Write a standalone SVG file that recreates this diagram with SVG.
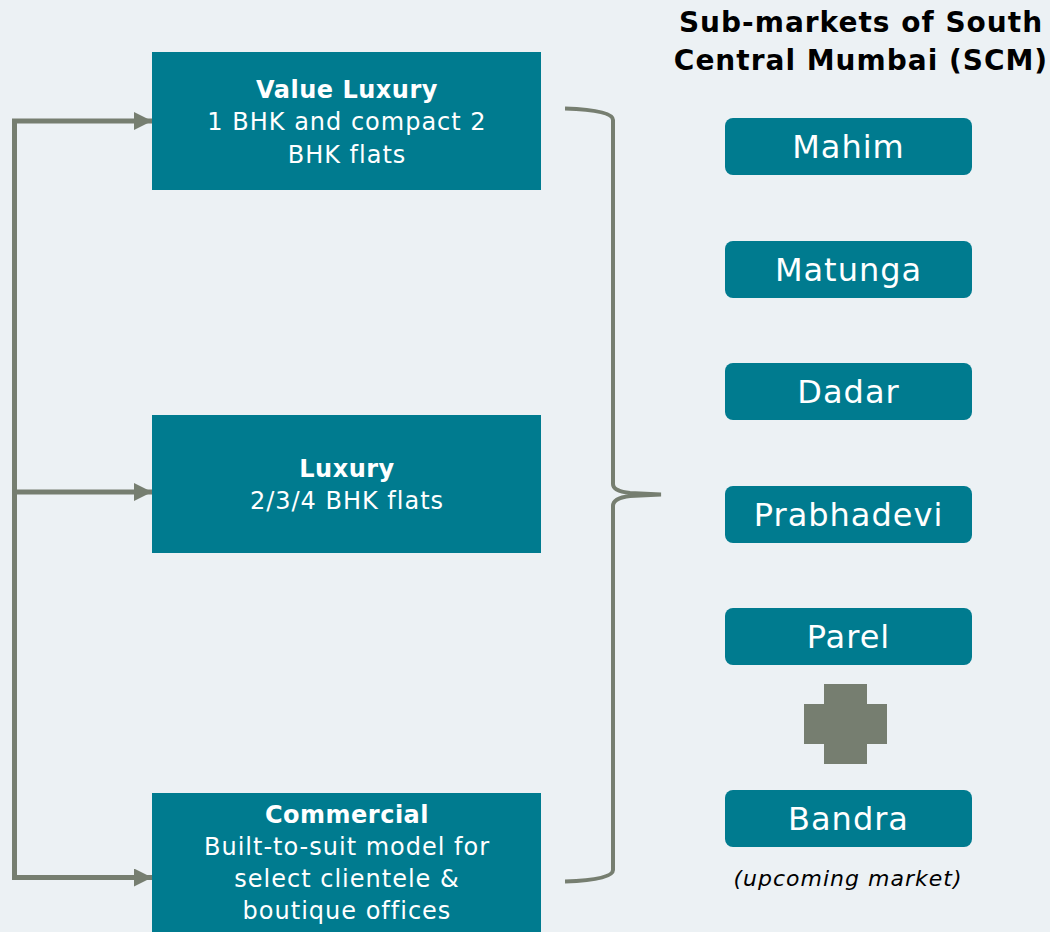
<svg xmlns="http://www.w3.org/2000/svg" width="1050" height="932" viewBox="0 0 1050 932">
<style>
.bg{fill:#ECF1F4}
.box{fill:#007B8F}
.mk{fill:#007B8F}
.t{font-family:"DejaVu Sans","Open Sans",sans-serif;fill:#FFFFFF;text-anchor:middle}
.tb{font-weight:bold;font-size:24px;letter-spacing:0.5px}
.tn{font-size:24px;letter-spacing:1px}
.mt{font-size:32px;letter-spacing:1px}
.title{font-family:"DejaVu Sans","Open Sans",sans-serif;font-weight:bold;font-size:28px;letter-spacing:1px;fill:#000000;text-anchor:middle}
.note{font-family:"DejaVu Sans","Open Sans",sans-serif;font-style:italic;font-size:22px;letter-spacing:1px;fill:#000000;text-anchor:middle}
.ln{fill:none;stroke:#767E70;stroke-width:5}
.br{fill:none;stroke:#767E70;stroke-width:4}
</style>
<defs>
<marker id="ah" markerUnits="userSpaceOnUse" markerWidth="18" markerHeight="18" refX="18" refY="9" orient="auto" viewBox="0 0 18 18">
<path d="M0,0 L18,9 L0,18 Z" fill="#767E70"/>
</marker>
</defs>
<rect class="bg" x="0" y="0" width="1050" height="932"/>
<g id="connectors">
<path class="ln" d="M14.5,121 L14.5,877.5"/>
<path class="ln" d="M12,121 L152,121" marker-end="url(#ah)"/>
<path class="ln" d="M14.5,492 L152,492" marker-end="url(#ah)"/>
<path class="ln" d="M12,877.5 L152,877.5" marker-end="url(#ah)"/>
<path class="br" d="M565,108.5 Q613,110 613,120 L613,484 Q613,491 630,493 L661,494.5 L630,496 Q613,498 613,506 L613,870 Q613,880 565,881.5"/>
</g>
<g id="title">
<text class="title" x="861" y="32">Sub-markets of South</text>
<text class="title" x="861" y="70">Central Mumbai (SCM)</text>
</g>
<g id="value-luxury">
<rect class="box" x="152" y="52" width="389" height="138"/>
<text class="t tb" x="347" y="98">Value Luxury</text>
<text class="t tn" x="347" y="130">1 BHK and compact 2</text>
<text class="t tn" x="347" y="163">BHK flats</text>
</g>
<g id="luxury">
<rect class="box" x="152" y="415" width="389" height="138"/>
<text class="t tb" x="347" y="477">Luxury</text>
<text class="t tn" x="347" y="509">2/3/4 BHK flats</text>
</g>
<g id="commercial">
<rect class="box" x="152" y="793" width="389" height="145"/>
<text class="t tb" x="347" y="823">Commercial</text>
<text class="t tn" x="347" y="855">Built-to-suit model for</text>
<text class="t tn" x="347" y="887">select clientele &amp;</text>
<text class="t tn" x="347" y="919">boutique offices</text>
</g>
<g id="mahim">
<rect class="mk" x="725" y="118" width="247" height="57" rx="8"/>
<text class="t mt" x="848.5" y="158">Mahim</text>
</g>
<g id="matunga">
<rect class="mk" x="725" y="241" width="247" height="57" rx="8"/>
<text class="t mt" x="848.5" y="281">Matunga</text>
</g>
<g id="dadar">
<rect class="mk" x="725" y="363" width="247" height="57" rx="8"/>
<text class="t mt" x="848.5" y="403">Dadar</text>
</g>
<g id="prabhadevi">
<rect class="mk" x="725" y="486" width="247" height="57" rx="8"/>
<text class="t mt" x="848.5" y="526">Prabhadevi</text>
</g>
<g id="parel">
<rect class="mk" x="725" y="608" width="247" height="57" rx="8"/>
<text class="t mt" x="848.5" y="648">Parel</text>
</g>
<g id="plus">
<path d="M824,684 H867 V704 H887 V744 H867 V764 H824 V744 H804 V704 H824 Z" fill="#767E70"/>
</g>
<g id="bandra">
<rect class="mk" x="725" y="790" width="247" height="57" rx="8"/>
<text class="t mt" x="848.5" y="830">Bandra</text>
<text class="note" x="848" y="886">(upcoming market)</text>
</g>
</svg>
